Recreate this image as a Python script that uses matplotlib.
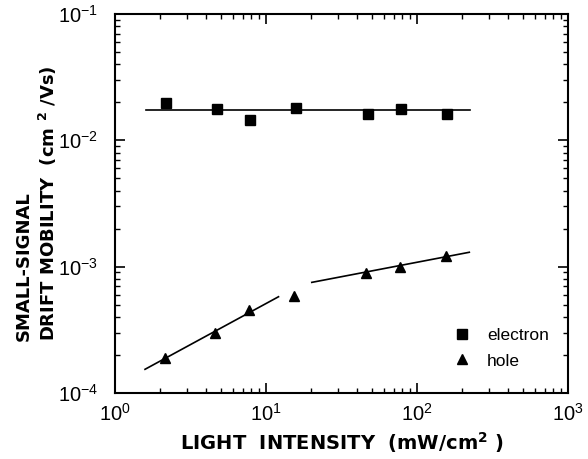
import matplotlib
matplotlib.use("Agg")
import matplotlib.pyplot as plt
from matplotlib.ticker import LogLocator, NullFormatter

plt.rcParams['font.family'] = ['Liberation Sans', 'DejaVu Sans']
plt.rcParams['mathtext.fontset'] = 'custom'
plt.rcParams['mathtext.rm'] = 'Liberation Sans'
plt.rcParams['mathtext.bf'] = 'DejaVu Sans:bold'

# electron data
e_intensity = [2.17, 4.71, 7.83, 15.7, 47.6, 78.3, 157]
e_mobility = [0.0196, 0.0177, 0.0145, 0.0181, 0.0161, 0.0176, 0.0161]
e_fit_x = [1.6, 224]
e_fit_y = [0.0174, 0.0174]

# hole data
h_intensity = [2.15, 4.6, 7.7, 15.3, 46, 77, 155]
h_mobility = [1.89e-4, 2.99e-4, 4.53e-4, 5.85e-4, 8.95e-4, 1.0e-3, 1.22e-3]
h_fit1_x = [1.58, 12.1]
h_fit1_y = [1.54e-4, 5.78e-4]
h_fit2_x = [20.1, 222]
h_fit2_y = [7.51e-4, 1.30e-3]

fig = plt.figure(figsize=(5.88, 4.59), dpi=100)
ax = fig.add_axes([0.1956, 0.1438, 0.7704, 0.8257])

ax.plot(e_fit_x, e_fit_y, color='black', linewidth=1.2)
ax.plot(h_fit1_x, h_fit1_y, color='black', linewidth=1.2)
ax.plot(h_fit2_x, h_fit2_y, color='black', linewidth=1.2)
ax.plot(e_intensity, e_mobility, 's', color='black', markersize=7.5, label='electron')
ax.plot(h_intensity, h_mobility, '^', color='black', markersize=7.5, label='hole')

ax.set_xscale('log')
ax.set_yscale('log')
ax.set_xlim(1, 1000)
ax.set_ylim(1e-4, 1e-1)

ax.xaxis.set_minor_locator(LogLocator(base=10, subs=range(2, 10)))
ax.yaxis.set_minor_locator(LogLocator(base=10, subs=range(2, 10)))
ax.xaxis.set_minor_formatter(NullFormatter())
ax.yaxis.set_minor_formatter(NullFormatter())

ax.tick_params(which='both', direction='in', top=True, right=True, labelsize=14.5)
ax.tick_params(which='major', length=7, width=1.2)
ax.tick_params(which='minor', length=3.5, width=1)
ax.tick_params(axis='x', which='major', pad=7)
ax.tick_params(axis='y', which='major', pad=12)
for s in ax.spines.values():
    s.set_linewidth(1.5)

lab_font = dict(family='DejaVu Sans', fontsize=13, fontweight='bold')
ax.set_xlabel('LIGHT  INTENSITY  (mW/cm$^{\\mathbf{2}}$ )', labelpad=4,
              family='DejaVu Sans', fontsize=14, fontweight='bold')
ax.set_ylabel('SMALL-SIGNAL\nDRIFT MOBILITY  (cm $^{\\mathbf{2}}$ /Vs)', labelpad=-1,
              linespacing=1.25, multialignment='left', **lab_font)

ax.legend(loc='upper left', bbox_to_anchor=(0.744, 0.172), frameon=False, fontsize=12.5,
          borderpad=0, borderaxespad=0, handletextpad=0.8, labelspacing=0.6,
          handlelength=1.2)

fig.savefig('out.png', dpi=100)
